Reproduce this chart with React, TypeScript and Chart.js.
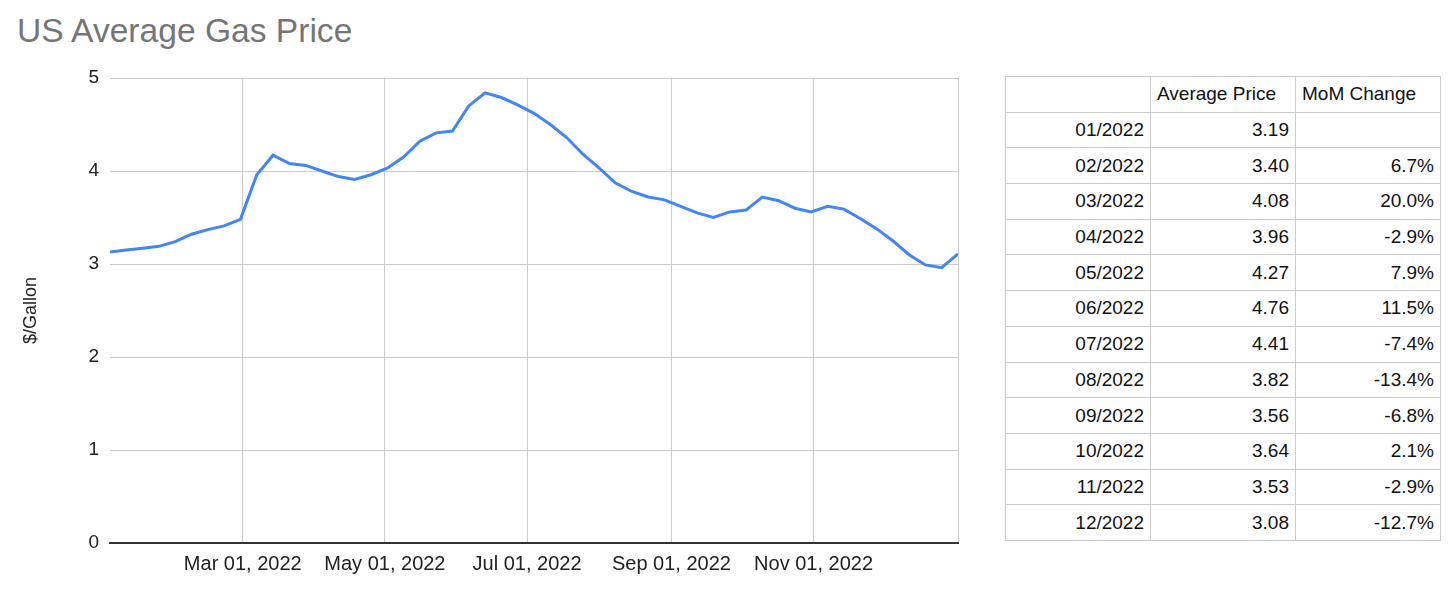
import React, { useEffect, useRef } from "react";
import { Chart, registerables } from "chart.js";

Chart.register(...registerables);

// ---- Data ----
const weekDates: string[] = [
  "2022-01-03", "2022-01-10", "2022-01-17", "2022-01-24", "2022-01-31",
  "2022-02-07", "2022-02-14", "2022-02-21", "2022-02-28",
  "2022-03-07", "2022-03-14", "2022-03-21", "2022-03-28",
  "2022-04-04", "2022-04-11", "2022-04-18", "2022-04-25",
  "2022-05-02", "2022-05-09", "2022-05-16", "2022-05-23", "2022-05-30",
  "2022-06-06", "2022-06-13", "2022-06-20", "2022-06-27",
  "2022-07-04", "2022-07-11", "2022-07-18", "2022-07-25",
  "2022-08-01", "2022-08-08", "2022-08-15", "2022-08-22", "2022-08-29",
  "2022-09-05", "2022-09-12", "2022-09-19", "2022-09-26",
  "2022-10-03", "2022-10-10", "2022-10-17", "2022-10-24", "2022-10-31",
  "2022-11-07", "2022-11-14", "2022-11-21", "2022-11-28",
  "2022-12-05", "2022-12-12", "2022-12-19", "2022-12-26",
  "2023-01-02",
];

const weeklyPrices: number[] = [
  3.13, 3.15, 3.17, 3.19, 3.24,
  3.32, 3.37, 3.41, 3.48,
  3.96, 4.17, 4.08, 4.06,
  4.00, 3.94, 3.91, 3.96,
  4.03, 4.15, 4.32, 4.41, 4.43,
  4.70, 4.84, 4.79, 4.71,
  4.62, 4.50, 4.36, 4.18,
  4.03, 3.87, 3.78, 3.72, 3.69,
  3.62, 3.55, 3.50, 3.56,
  3.58, 3.72, 3.68, 3.60, 3.56,
  3.62, 3.59, 3.49, 3.38,
  3.25, 3.10, 2.99, 2.96,
  3.11,
];

const xTickDates: string[] = ["2022-03-01", "2022-05-01", "2022-07-01", "2022-09-01", "2022-11-01"];
const xTickLabels: string[] = ["Mar 01, 2022", "May 01, 2022", "Jul 01, 2022", "Sep 01, 2022", "Nov 01, 2022"];

const tableMonths: string[] = [
  "01/2022", "02/2022", "03/2022", "04/2022", "05/2022", "06/2022",
  "07/2022", "08/2022", "09/2022", "10/2022", "11/2022", "12/2022",
];
const tableAvgPrices: string[] = [
  "3.19", "3.40", "4.08", "3.96", "4.27", "4.76",
  "4.41", "3.82", "3.56", "3.64", "3.53", "3.08",
];
const tableMomChanges: string[] = [
  "", "6.7%", "20.0%", "-2.9%", "7.9%", "11.5%",
  "-7.4%", "-13.4%", "-6.8%", "2.1%", "-2.9%", "-12.7%",
];

const FONT = '"Liberation Sans", Arial, Helvetica, sans-serif';
const DAY = 86400000;
const toDay = (s: string) => (Date.parse(s + "T00:00:00Z") - Date.parse(weekDates[0] + "T00:00:00Z")) / DAY;

export default function App() {
  const canvasRef = useRef<HTMLCanvasElement | null>(null);

  useEffect(() => {
    if (!canvasRef.current) return;
    const points = weekDates.map((d, i) => ({ x: toDay(d), y: weeklyPrices[i] }));
    const xMax = toDay(weekDates[weekDates.length - 1]);
    const tickVals = xTickDates.map(toDay);

    const chart = new Chart(canvasRef.current, {
      type: "line",
      data: {
        datasets: [
          {
            label: "Average Price",
            data: points,
            borderColor: "#4285F4",
            backgroundColor: "#4285F4",
            borderWidth: 3,
            pointRadius: 0,
            tension: 0,
          },
        ],
      },
      options: {
        animation: false,
        responsive: false,
        layout: { padding: { left: 0, right: 22, top: 78, bottom: 0 } },
        plugins: {
          legend: { display: false },
          tooltip: { enabled: false },
          title: { display: false },
        },
        scales: {
          x: {
            type: "linear",
            min: 0,
            max: xMax,
            afterBuildTicks: (scale: any) => {
              scale.ticks = [...tickVals.map((v) => ({ value: v })), { value: xMax }];
            },
            afterFit: (scale: any) => {
              scale.height = 64;
            },
            ticks: {
              autoSkip: false,
              maxRotation: 0,
              padding: 9,
              color: "#222",
              font: { family: FONT, size: 20 },
              callback: (value: any) => {
                const idx = tickVals.indexOf(Number(value));
                return idx >= 0 ? xTickLabels[idx] : "";
              },
            },
            grid: { color: "#cccccc", lineWidth: 1, drawTicks: false },
            border: { display: true, color: "#333333", width: 2 },
          },
          y: {
            min: 0,
            max: 5,
            afterFit: (scale: any) => {
              scale.width = 110;
            },
            ticks: {
              stepSize: 1,
              padding: 11,
              color: "#222",
              font: { family: FONT, size: 19 },
            },
            grid: { color: "#cccccc", lineWidth: 1, drawTicks: false },
            border: { display: false },
            title: {
              display: true,
              text: "$/Gallon",
              color: "#222",
              font: { family: FONT, size: 18 },
              padding: { top: 20, bottom: 0 },
            },
          },
        },
      },
    });
    return () => chart.destroy();
  }, []);

  const cellBase: React.CSSProperties = {
    border: "1px solid #cccccc",
    height: 35,
    padding: "0 6px",
    fontFamily: FONT,
    fontSize: 19,
    color: "#111",
    whiteSpace: "nowrap",
    overflow: "hidden",
    boxSizing: "border-box",
  };

  return (
    <div style={{ position: "absolute", left: 0, top: 0, width: 1456, height: 607, background: "#fff", overflow: "hidden" }}>
      <div
        style={{
          position: "absolute",
          left: 17,
          top: 14,
          fontFamily: FONT,
          fontSize: 33.6,
          lineHeight: "33px",
          color: "#757575",
          whiteSpace: "nowrap",
        }}
      >
        US Average Gas Price
      </div>
      <canvas ref={canvasRef} width={980} height={607} style={{ position: "absolute", left: 0, top: 0, width: 980, height: 607 }} />
      <table
        style={{
          position: "absolute",
          left: 1005,
          top: 76,
          width: 436,
          borderCollapse: "collapse",
          tableLayout: "fixed",
        }}
      >
        <tbody>
          <tr style={{ height: 35.7 }}>
            <td style={{ ...cellBase, width: 145 }}></td>
            <td style={{ ...cellBase, width: 145, textAlign: "left" }}>Average Price</td>
            <td style={{ ...cellBase, width: 145, textAlign: "left" }}>MoM Change</td>
          </tr>
          {tableMonths.map((m, i) => (
            <tr key={m} style={{ height: 35.7 }}>
              <td style={{ ...cellBase, textAlign: "right" }}>{m}</td>
              <td style={{ ...cellBase, textAlign: "right" }}>{tableAvgPrices[i]}</td>
              <td style={{ ...cellBase, textAlign: "right" }}>{tableMomChanges[i]}</td>
            </tr>
          ))}
        </tbody>
      </table>
    </div>
  );
}
